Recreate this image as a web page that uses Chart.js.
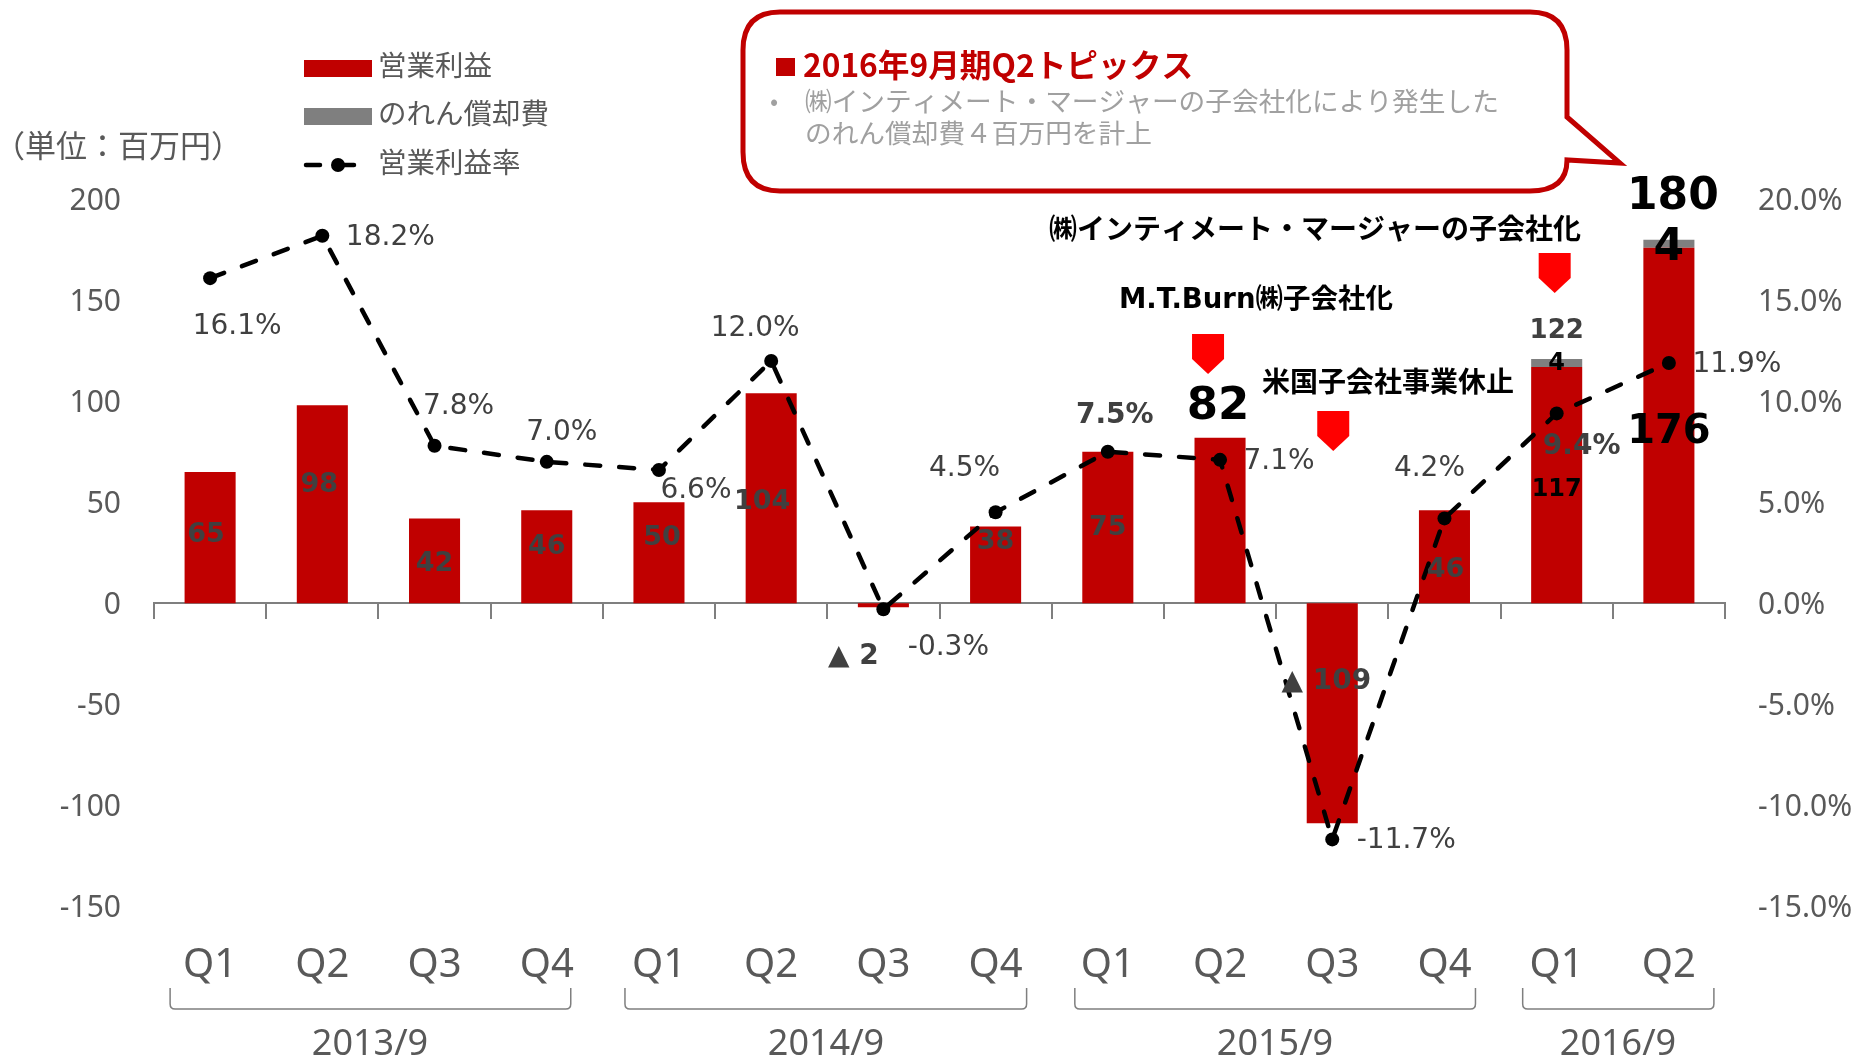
<!DOCTYPE html>
<html>
<head>
<meta charset="utf-8">
<script src="https://cdn.jsdelivr.net/npm/chart.js@4/dist/chart.umd.min.js"></script>
<style>
    html, body { margin: 0; padding: 0; background: #fff; overflow: hidden; }
    canvas { display: block; }
</style>
</head>
<body>
<canvas id="chart" width="1859" height="1061"></canvas>
<script>
// data
const quarters = ['Q1', 'Q2', 'Q3', 'Q4', 'Q1', 'Q2', 'Q3', 'Q4', 'Q1', 'Q2', 'Q3', 'Q4', 'Q1', 'Q2'];
const operatingProfit = [65, 98, 42, 46, 50, 104, -2, 38, 75, 82, -109, 46, 117, 176];
const goodwill = [null, null, null, null, null, null, null, null, null, null, null, null, 4, 4];
const margin = [16.1, 18.2, 7.8, 7.0, 6.6, 12.0, -0.3, 4.5, 7.5, 7.1, -11.7, 4.2, 9.4, 11.9];
const profitText = ['65', '98', '42', '46', '50', '104', '▲ 2', '38', '75', '82', '▲ 109', '46', '117', '176'];
const marginText = margin.map(v => v.toFixed(1) + '%');
const yearLabels = ['2013/9', '2014/9', '2015/9', '2016/9'];
const seriesNames = ['営業利益', 'のれん償却費', '営業利益率'];

const RED = '#C00000';
const GRAY = '#7F7F7F';
const TEXT = '#595959';
const DARK = '#404040';
const LATIN = '"DejaVu Sans", "Noto Sans CJK JP"';
const JP = '"Noto Sans CJK JP"';

// label placement: [dx, dy, px, colour] from the bar end
const profitPlace = [
    [-4, 63, 27, DARK], [-3, 80, 27, DARK], [0, 46, 27, DARK], [0, 37, 27, DARK],
    [3, 36, 27, DARK], [-9, 109, 27, DARK], [-30, 50, 28, DARK], [0, 16, 27, DARK],
    [0, 76, 27, DARK], [-2, -30, 45, '#000'], [-6, -142, 28, DARK], [1, 60, 27, DARK],
    [0, 123, 24, '#000'], [0, 185, 40, '#000']
];
// [dx, dy, bold] from the line point
const marginPlace = [
    [27, 49], [68, 2], [24, -39], [15, -29], [37, 21], [-16, -32], [65, 38],
    [-31, -44], [7, -36, true], [59, 2], [74, 1], [-15, -50], [25, 33, true], [68, 2]
];
// first and last quarter of each year with bracket overhang
const yearSpans = [[0, 3, -40, 24, 370], [4, 7, -34, 31, 826], [8, 11, -33, 31, 1275], [12, 13, -34, 45, 1618]];
// quarter index, x shift, top of the red marker, text, text x, text y, font
const events = [
    [9, -12, 334, 'M.T.Burn㈱子会社化', 1256, 301, `bold 27.5px ${LATIN}`],
    [10, 1, 411, '米国子会社事業休止', 1388, 381, `bold 28px ${JP}`],
    [12, -2, 253, '㈱インティメート・マージャーの子会社化', 1315, 228, `bold 28px ${JP}`]
];

function text(ctx, str, x, y, font, color, align) {
    ctx.font = font;
    ctx.fillStyle = color;
    ctx.textAlign = align || 'center';
    ctx.textBaseline = 'middle';
    ctx.fillText(str, x, y);
}

const overlay = {
    id: 'overlay',
    afterDraw(chart) {
        const ctx = chart.ctx;
        const x = chart.scales.x, y = chart.scales.y, y1 = chart.scales.y1;
        ctx.save();

        // values on the bars
        operatingProfit.forEach((v, i) => {
            const p = profitPlace[i];
            text(ctx, profitText[i], x.getPixelForValue(i) + p[0], y.getPixelForValue(v) + p[1], `bold ${p[2]}px ${LATIN}`, p[3]);
        });
        text(ctx, '122', x.getPixelForValue(12), y.getPixelForValue(121) - 28, `bold 26px ${LATIN}`, DARK);
        text(ctx, '4', x.getPixelForValue(12), y.getPixelForValue(121) + 5, `bold 24px ${LATIN}`, '#000');
        text(ctx, '180', x.getPixelForValue(13) + 4, y.getPixelForValue(180) - 42, `bold 44px ${LATIN}`, '#000');
        text(ctx, '4', x.getPixelForValue(13), y.getPixelForValue(180) + 9, `bold 44px ${LATIN}`, '#000');

        // values on the line
        margin.forEach((v, i) => {
            const p = marginPlace[i];
            const font = p[2] ? `bold 28px ${LATIN}` : `28px ${LATIN}`;
            text(ctx, marginText[i], x.getPixelForValue(i) + p[0], y1.getPixelForValue(v) + p[1], font, DARK);
        });

        // year brackets
        ctx.strokeStyle = GRAY;
        ctx.lineWidth = 1.5;
        yearSpans.forEach((s, i) => {
            const left = x.getPixelForValue(s[0]) + s[2];
            const right = x.getPixelForValue(s[1]) + s[3];
            ctx.beginPath();
            ctx.moveTo(left, 988);
            ctx.lineTo(left, 1004);
            ctx.quadraticCurveTo(left, 1009, left + 5, 1009);
            ctx.lineTo(right - 5, 1009);
            ctx.quadraticCurveTo(right, 1009, right, 1004);
            ctx.lineTo(right, 988);
            ctx.stroke();
            text(ctx, yearLabels[i], s[4], 1045, '36px "Noto Sans"', TEXT);
        });

        // events
        events.forEach(e => {
            const cx = x.getPixelForValue(e[0]) + e[1];
            ctx.fillStyle = '#FF0000';
            ctx.beginPath();
            ctx.moveTo(cx - 16, e[2]);
            ctx.lineTo(cx + 16, e[2]);
            ctx.lineTo(cx + 16, e[2] + 25);
            ctx.lineTo(cx, e[2] + 40);
            ctx.lineTo(cx - 16, e[2] + 25);
            ctx.closePath();
            ctx.fill();
            text(ctx, e[3], e[4], e[5], e[6], '#000');
        });

        // legend
        ctx.fillStyle = RED;
        ctx.fillRect(304, 60, 68, 17);
        ctx.fillStyle = GRAY;
        ctx.fillRect(304, 108, 68, 17);
        ctx.strokeStyle = '#000';
        ctx.lineWidth = 4.5;
        ctx.lineCap = 'round';
        ctx.setLineDash([14, 20]);
        ctx.beginPath();
        ctx.moveTo(306, 165);
        ctx.lineTo(354, 165);
        ctx.stroke();
        ctx.setLineDash([]);
        ctx.fillStyle = '#000';
        ctx.beginPath();
        ctx.arc(338, 165, 7, 0, Math.PI * 2);
        ctx.fill();
        text(ctx, seriesNames[0], 378, 65, `28.5px ${JP}`, TEXT, 'left');
        text(ctx, seriesNames[1], 378, 113, `28.5px ${JP}`, TEXT, 'left');
        text(ctx, seriesNames[2], 378, 162, `28.5px ${JP}`, TEXT, 'left');
        text(ctx, '（単位：百万円）', -6, 145, `31px ${JP}`, TEXT, 'left');

        // callout
        ctx.strokeStyle = RED;
        ctx.fillStyle = '#fff';
        ctx.lineWidth = 5;
        ctx.lineJoin = 'miter';
        ctx.beginPath();
        ctx.moveTo(780, 12);
        ctx.lineTo(1530, 12);
        ctx.quadraticCurveTo(1567, 12, 1567, 50);
        ctx.lineTo(1567, 117);
        ctx.lineTo(1620, 163);
        ctx.lineTo(1567, 160);
        ctx.quadraticCurveTo(1567, 191, 1530, 191);
        ctx.lineTo(780, 191);
        ctx.quadraticCurveTo(743, 191, 743, 152);
        ctx.lineTo(743, 50);
        ctx.quadraticCurveTo(743, 12, 780, 12);
        ctx.closePath();
        ctx.fill();
        ctx.stroke();
        ctx.fillStyle = RED;
        ctx.fillRect(776, 58, 19, 18);
        text(ctx, '2016年9月期Q2トピックス', 803, 65, `bold 31.7px ${JP}`, RED, 'left');
        text(ctx, '•', 774, 101, `24px ${JP}`, '#A0A0A0');
        text(ctx, '㈱インティメート・マージャーの子会社化により発生した', 805, 101, `26.7px ${JP}`, '#A0A0A0', 'left');
        text(ctx, 'のれん償却費４百万円を計上', 805, 133, `26.7px ${JP}`, '#A0A0A0', 'left');

        ctx.restore();
    }
};

new Chart(document.getElementById('chart').getContext('2d'), {
    type: 'bar',
    data: {
        labels: quarters,
        datasets: [
            { type: 'line', label: seriesNames[2], data: margin, yAxisID: 'y1', order: 0, borderColor: '#000', borderWidth: 4.5, borderDash: [15, 19], borderCapStyle: 'round', tension: 0, fill: false, pointRadius: 7, pointBackgroundColor: '#000', pointBorderWidth: 0 },
            { label: seriesNames[0], data: operatingProfit, yAxisID: 'y', order: 1, backgroundColor: RED, barPercentage: 0.455, categoryPercentage: 1 },
            { label: seriesNames[1], data: goodwill, yAxisID: 'y', order: 1, backgroundColor: GRAY, barPercentage: 0.455, categoryPercentage: 1 }
        ]
    },
    options: {
        responsive: false,
        animation: false,
        layout: { padding: { top: 199.4, left: 0, right: 0, bottom: 0 } },
        scales: {
            x: {
                stacked: true,
                offset: true,
                position: 'bottom',
                grid: { display: false },
                border: { display: false },
                ticks: { color: TEXT, font: { family: 'Noto Sans', size: 40 }, padding: 28, maxRotation: 0, autoSkip: false },
                afterFit(scale) { scale.height = 155; }
            },
            axis0: {
                type: 'category',
                axis: 'x',
                labels: quarters,
                offset: true,
                position: { y: 0 },
                grid: { offset: true, drawOnChartArea: false, drawTicks: true, tickLength: 15, color: GRAY, lineWidth: 2 },
                border: { display: true, color: GRAY, width: 2 },
                ticks: { display: false }
            },
            y: {
                stacked: true,
                min: -150,
                max: 200,
                position: 'left',
                grid: { display: false },
                border: { display: false },
                ticks: { stepSize: 50, color: TEXT, font: { family: 'Noto Sans', size: 30 }, padding: 25, labelOffset: 2.5 },
                afterFit(scale) { scale.width = 154; }
            },
            y1: {
                min: -15,
                max: 20,
                position: 'right',
                grid: { display: false },
                border: { display: false },
                ticks: { stepSize: 5, color: TEXT, font: { family: 'Noto Sans', size: 30 }, padding: 25, labelOffset: 2.5, callback: v => v.toFixed(1) + '%' },
                afterFit(scale) { scale.width = 134; }
            }
        },
        plugins: { legend: { display: false }, tooltip: { enabled: false } }
    },
    plugins: [overlay]
});
</script>
</body>
</html>
